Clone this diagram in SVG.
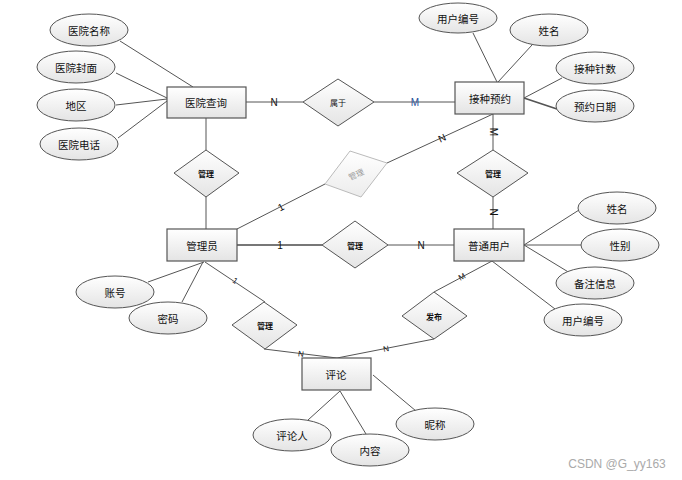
<svg xmlns="http://www.w3.org/2000/svg" width="682" height="480" viewBox="0 0 682 480">
<defs>
<linearGradient id="g" x1="0" y1="0" x2="0" y2="1">
<stop offset="0" stop-color="#ffffff"/>
<stop offset="1" stop-color="#e4e4e4"/>
</linearGradient>
<linearGradient id="gg" x1="0" y1="0" x2="0" y2="1">
<stop offset="0" stop-color="#ffffff"/>
<stop offset="1" stop-color="#ececec"/>
</linearGradient>
</defs>
<style>
text{font-family:"Noto Sans CJK SC","Liberation Sans",sans-serif;text-anchor:middle;dominant-baseline:central;fill:#111}
.ent rect{fill:url(#g);stroke:#555;stroke-width:1.2}
.att ellipse{fill:url(#g);stroke:#555;stroke-width:1}
.rel polygon{fill:url(#g);stroke:#555;stroke-width:1}
.e{font-size:10.5px}
.a{font-size:10.5px}
.r{font-size:8px;font-weight:bold}
.c line{stroke:#555;stroke-width:1}
.lb{font-family:"Liberation Sans",sans-serif;font-size:10px}
</style>
<rect width="682" height="480" fill="#fff"/>
<g id="connectors" class="c">
<line x1="120" y1="41" x2="193" y2="87"/>
<line x1="116" y1="73" x2="167" y2="98"/>
<line x1="116" y1="105" x2="167" y2="99"/>
<line x1="118" y1="138" x2="167" y2="101"/>
<line x1="246" y1="102" x2="303" y2="102"/>
<line x1="374" y1="102" x2="455" y2="102"/>
<line x1="206" y1="118" x2="206" y2="150"/>
<line x1="206" y1="197" x2="206" y2="229"/>
<line x1="237" y1="229" x2="325" y2="184"/>
<line x1="387" y1="163" x2="493" y2="114"/>
<line x1="493" y1="114" x2="493" y2="150"/>
<line x1="493" y1="197" x2="493" y2="229"/>
<line x1="237" y1="245" x2="322" y2="245" style="stroke:#777;stroke-width:2"/>
<line x1="388" y1="245" x2="454" y2="245"/>
<line x1="204" y1="262" x2="148" y2="282"/>
<line x1="203" y1="262" x2="182" y2="302"/>
<line x1="205" y1="262" x2="265" y2="302"/>
<line x1="264" y1="349" x2="337" y2="358"/>
<line x1="337" y1="358" x2="434" y2="339"/>
<line x1="434" y1="292" x2="492" y2="261"/>
<line x1="524" y1="245" x2="579" y2="210"/>
<line x1="524" y1="245" x2="581" y2="245"/>
<line x1="524" y1="245" x2="570" y2="273"/>
<line x1="492" y1="261" x2="555" y2="309"/>
<line x1="473" y1="33" x2="497" y2="82"/>
<line x1="532" y1="45" x2="498" y2="82"/>
<line x1="524" y1="98" x2="562" y2="78"/>
<line x1="524" y1="98" x2="557" y2="109" style="stroke-width:1.8"/>
<line x1="340" y1="391" x2="308" y2="420"/>
<line x1="340" y1="391" x2="366" y2="434"/>
<line x1="373" y1="375" x2="416" y2="411"/>
<text class="lb" x="274" y="102">N</text>
<text class="lb" x="415" y="102" style="fill:#1f4e9a">M</text>
<text class="lb" x="281" y="207" transform="rotate(-27 281 207)">1</text>
<text class="lb" x="442" y="138" transform="rotate(-25 442 138)">N</text>
<text class="lb" x="493" y="132" transform="rotate(90 493 132)">M</text>
<text class="lb" x="493" y="212" transform="rotate(90 493 212)">N</text>
<text class="lb" x="280" y="245">1</text>
<text class="lb" x="421" y="245">N</text>
<text class="lb" x="235" y="281" style="font-size:8px" transform="rotate(34 235 281)">1</text>
<text class="lb" x="301" y="354" style="font-size:8px" transform="rotate(7 301 354)">N</text>
<text class="lb" x="386" y="349" style="font-size:8px" transform="rotate(-11 386 349)">N</text>
<text class="lb" x="462" y="277" style="font-size:8px" transform="rotate(-28 462 277)">M</text>
</g>
<g id="e-hospital" class="ent"><rect x="167" y="87" width="79" height="31"/><text class="e" x="206" y="102">医院查询</text></g>
<g id="e-booking" class="ent"><rect x="455" y="82" width="69" height="32"/><text class="e" x="490" y="98">接种预约</text></g>
<g id="e-admin" class="ent"><rect x="167" y="229" width="70" height="32"/><text class="e" x="202" y="245">管理员</text></g>
<g id="e-user" class="ent"><rect x="454" y="229" width="70" height="32"/><text class="e" x="489" y="245">普通用户</text></g>
<g id="e-comment" class="ent"><rect x="302" y="358" width="69" height="32"/><text class="e" x="336" y="374">评论</text></g>
<g id="r-belong" class="rel"><polygon points="338,79 374,102 338,126 303,102"/><text class="r" x="338" y="102" style="font-weight:normal">属于</text></g>
<g id="r-manage1" class="rel"><polygon points="206,150 239,173 206,197 174,173"/><text class="r" x="206" y="173">管理</text></g>
<g id="r-manage-gray" class="rel"><polygon points="350,151 387,163 361,197 325,184" style="stroke:#bbb;fill:url(#gg)"/><text class="r" x="356" y="174" style="fill:#999;font-weight:normal" transform="rotate(-25 356 174)">管理</text></g>
<g id="r-manage2" class="rel"><polygon points="493,150 528,173 493,197 457,173"/><text class="r" x="493" y="173">管理</text></g>
<g id="r-manage3" class="rel"><polygon points="355,221 388,245 355,268 322,245"/><text class="r" x="355" y="245">管理</text></g>
<g id="r-manage4" class="rel"><polygon points="264,302 297,325 265,349 232,325"/><text class="r" x="265" y="325">管理</text></g>
<g id="r-publish" class="rel"><polygon points="434,292 467,316 434,339 402,316"/><text class="r" x="434" y="316">发布</text></g>
<g id="a-hname" class="att"><ellipse cx="89" cy="30" rx="39" ry="16"/><text class="a" x="89" y="30">医院名称</text></g>
<g id="a-hcover" class="att"><ellipse cx="76" cy="67" rx="39" ry="16"/><text class="a" x="76" y="67">医院封面</text></g>
<g id="a-area" class="att"><ellipse cx="76" cy="105" rx="39" ry="16"/><text class="a" x="76" y="105">地区</text></g>
<g id="a-hphone" class="att"><ellipse cx="79" cy="144" rx="39" ry="16"/><text class="a" x="79" y="144">医院电话</text></g>
<g id="a-uid1" class="att"><ellipse cx="458" cy="18" rx="39" ry="15"/><text class="a" x="458" y="18">用户编号</text></g>
<g id="a-name1" class="att"><ellipse cx="549" cy="30" rx="39" ry="16"/><text class="a" x="549" y="30">姓名</text></g>
<g id="a-doses" class="att"><ellipse cx="595" cy="68" rx="39" ry="16"/><text class="a" x="595" y="68">接种针数</text></g>
<g id="a-date" class="att"><ellipse cx="595" cy="106" rx="39" ry="16"/><text class="a" x="595" y="106">预约日期</text></g>
<g id="a-name2" class="att"><ellipse cx="617" cy="208" rx="39" ry="16"/><text class="a" x="617" y="208">姓名</text></g>
<g id="a-sex" class="att"><ellipse cx="620" cy="245" rx="39" ry="16"/><text class="a" x="620" y="245">性别</text></g>
<g id="a-note" class="att"><ellipse cx="595" cy="283" rx="39" ry="16"/><text class="a" x="595" y="283">备注信息</text></g>
<g id="a-uid2" class="att"><ellipse cx="583" cy="320" rx="39" ry="16"/><text class="a" x="583" y="320">用户编号</text></g>
<g id="a-account" class="att"><ellipse cx="115" cy="292" rx="39" ry="16"/><text class="a" x="115" y="292">账号</text></g>
<g id="a-pwd" class="att"><ellipse cx="168" cy="318" rx="39" ry="16"/><text class="a" x="168" y="318">密码</text></g>
<g id="a-commenter" class="att"><ellipse cx="292" cy="435" rx="39" ry="16"/><text class="a" x="292" y="435">评论人</text></g>
<g id="a-content" class="att"><ellipse cx="370" cy="450" rx="39" ry="16"/><text class="a" x="370" y="450">内容</text></g>
<g id="a-nick" class="att"><ellipse cx="435" cy="424" rx="39" ry="16"/><text class="a" x="435" y="424">昵称</text></g>
<text x="617" y="464" style="font-family:'Liberation Sans',sans-serif;font-size:12px;fill:#aaa">CSDN @G_yy163</text>
</svg>
